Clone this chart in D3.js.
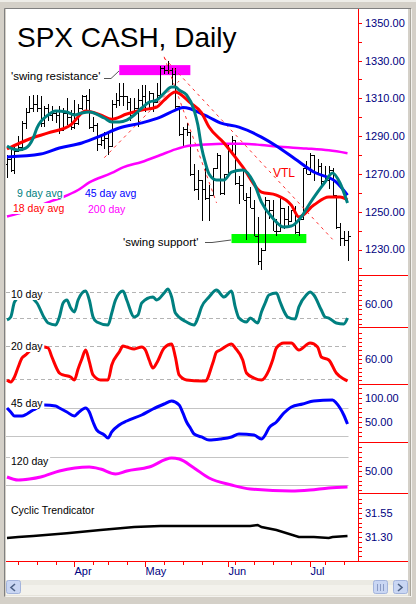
<!DOCTYPE html>
<html><head><meta charset="utf-8">
<script src="https://cdn.jsdelivr.net/npm/d3@7"></script>
<style>body{margin:0;background:#d4d0c8;}svg{display:block;}text{font-family:"Liberation Sans",Arial,sans-serif;}</style>
</head><body><svg id="c" width="416" height="604"></svg>
<script>
// ---- data (SPX cash, daily, 2006) ----
const dates = ["3/8","3/9","3/10","3/13","3/14","3/15","3/16","3/17","3/20","3/21","3/22","3/23","3/24","3/27","3/28","3/29","3/30","3/31",
"4/3","4/4","4/5","4/6","4/7","4/10","4/11","4/12","4/13","4/17","4/18","4/19","4/20","4/21","4/24","4/25","4/26","4/27","4/28",
"5/1","5/2","5/3","5/4","5/5","5/8","5/9","5/10","5/11","5/12","5/15","5/16","5/17","5/18","5/19","5/22","5/23","5/24","5/25","5/26","5/30","5/31",
"6/1","6/2","6/5","6/6","6/7","6/8","6/9","6/12","6/13","6/14","6/15","6/16","6/19","6/20","6/21","6/22","6/23","6/26","6/27","6/28","6/29","6/30",
"7/3","7/5","7/6","7/7","7/10","7/11","7/12","7/13","7/14","7/17","7/18"];
const opens = [1275,1278,1272,1282,1284,1297,1303,1305,1307,1305,1297,1305,1301,1302,1301,1293,1302,1300,
1302,1297,1305,1311,1309,1295,1296,1286,1288,1289,1285,1307,1309,1311,1311,1308,1301,1305,1309,
1311,1305,1313,1308,1312,1326,1325,1325,1323,1306,1291,1294,1292,1270,1262,1267,1262,1257,1259,1273,1280,1260,
1270,1286,1288,1265,1264,1256,1258,1252,1237,1224,1230,1256,1251,1240,1240,1252,1246,1245,1251,1239,1246,1273,
1270,1280,1271,1274,1266,1267,1272,1259,1242,1236,1235];
const highs = [1280,1283,1285,1290,1298,1305,1311,1312,1312,1311,1306,1307,1306,1304,1306,1305,1310,1304,
1309,1307,1312,1312,1315,1300,1297,1290,1292,1292,1309,1313,1318,1318,1311,1310,1310,1315,1317,
1317,1314,1313,1318,1327,1327,1330,1326,1326,1306,1295,1297,1292,1275,1272,1267,1273,1264,1273,1281,1280,1270,
1286,1290,1288,1269,1272,1260,1263,1256,1247,1231,1258,1256,1256,1246,1257,1252,1253,1251,1253,1247,1273,1277,
1281,1280,1278,1276,1274,1274,1273,1259,1244,1240,1240];
const lows = [1268,1271,1270,1282,1282,1294,1302,1303,1303,1295,1295,1298,1298,1297,1291,1293,1296,1293,
1294,1296,1304,1302,1294,1292,1282,1285,1283,1280,1285,1305,1306,1306,1304,1298,1301,1295,1305,
1303,1305,1303,1308,1312,1323,1323,1317,1304,1290,1285,1290,1269,1261,1256,1245,1256,1245,1259,1273,1259,1259,
1270,1280,1264,1254,1256,1235,1252,1237,1222,1219,1230,1246,1240,1237,1240,1241,1242,1245,1238,1237,1246,1270,
1270,1266,1271,1263,1265,1262,1258,1241,1232,1232,1224];
const closes = [1278,1272,1282,1284,1297,1303,1305,1307,1305,1297,1305,1301,1302,1301,1293,1302,1300,1295,
1297,1305,1311,1309,1295,1296,1286,1288,1289,1285,1307,1309,1311,1311,1308,1301,1305,1309,1311,
1305,1313,1308,1312,1326,1325,1325,1323,1306,1291,1294,1292,1270,1262,1267,1262,1257,1259,1273,1280,1260,1270,
1286,1288,1265,1264,1256,1258,1252,1237,1224,1230,1256,1251,1240,1240,1252,1246,1245,1251,1239,1246,1273,1270,
1280,1271,1274,1266,1267,1272,1259,1242,1236,1235,1237];

const ma9 = [["3/8",1284.8],["3/9",1283.7],["3/13",1282.7],["3/15",1283.7],["3/17",1289],["3/20",1294.3],["3/23",1301.2],["3/27",1303.3],["3/30",1302.8],["4/3",1301.2],["4/5",1302.3],["4/7",1302.8],["4/13",1299.6],["4/18",1297.5],["4/20",1297.5],["4/24",1298.5],["4/26",1301.2],["4/28",1304.9],["5/2",1308],["5/4",1309.1],["5/8",1312.8],["5/10",1316],["5/11",1316],["5/12",1314.4],["5/16",1311.8],["5/18",1303.8],["5/19",1296],["5/22",1284],["5/23",1276],["5/24",1270],["5/26",1266.8],["5/31",1266.8],["6/2",1271],["6/7",1272.1],["6/12",1265.2],["6/14",1255.1],["6/19",1246.7],["6/22",1241.9],["6/26",1242.4],["6/29",1248.2],["7/3",1254.6],["7/6",1260.4],["7/10",1265.7],["7/12",1270.5],["7/14",1265.2],["7/18",1254.6]];
const ma18 = [["3/8",1283.2],["3/16",1288.5],["3/23",1291.7],["3/31",1295.9],["4/6",1303.3],["4/12",1301.2],["4/18",1299],["4/24",1301.7],["4/28",1303.8],["5/4",1305.4],["5/8",1309.1],["5/11",1313.4],["5/17",1307.6],["5/22",1302.3],["5/24",1294.8],["5/31",1286.4],["6/7",1273.7],["6/14",1260.4],["6/20",1258.8],["6/26",1253.5],["6/28",1247.2],["7/5",1253.5],["7/11",1257.8],["7/14",1257.8],["7/18",1256.2]];
const ma45 = [["3/8",1279],["3/21",1280.5],["3/28",1283.7],["4/5",1286.4],["4/12",1290.1],["4/20",1294.3],["4/28",1297],["5/5",1300.1],["5/11",1303.8],["5/15",1305.2],["5/17",1304.5],["5/22",1301.8],["5/24",1300],["5/30",1297],["6/6",1294.8],["6/14",1289.5],["6/20",1284.8],["6/27",1277.9],["7/5",1271],["7/13",1265.7],["7/18",1258.8]];
const ma200 = [["3/8",1247.5],["3/13",1249],["3/24",1255.7],["3/29",1257.8],["4/4",1261.5],["4/7",1265.5],["4/18",1270.5],["4/21",1273.5],["4/28",1276.3],["5/5",1280],["5/11",1283],["5/17",1285],["5/23",1285.6],["5/31",1286],["6/7",1286],["6/14",1285.3],["6/20",1284.5],["6/30",1283.5],["7/11",1282.5],["7/18",1281]];

const resistanceZone = ["4/20","5/17",1322.3,1327.6];
const supportZone = ["6/2","6/30",1233.4,1238.2];
const vtlLine = [["5/8",1331.4],["7/12",1235.4]];
const steepLine = [["5/8",1332],["5/26",1254.7]];
const risingLine = [["4/13",1278.6],["5/12",1319.2]];

const osc10 = [["3/8",36.2],["3/9",40.8],["3/10",63.8],["3/14",74],["3/16",72],["3/20",62.3],["3/22",39.2],["3/23",31.5],["3/27",28.5],["3/28",40.8],["3/29",62.3],["3/30",66.9],["3/31",55],["4/3",48.5],["4/4",66.9],["4/6",80.8],["4/7",66.9],["4/10",40.8],["4/11",33.1],["4/17",28.5],["4/18",46.9],["4/19",66.9],["4/21",80.8],["4/24",66.9],["4/26",40.8],["4/27",43.8],["4/28",62.3],["5/3",71.5],["5/4",66.9],["5/8",77.7],["5/9",83.8],["5/10",71.5],["5/11",46.9],["5/16",33.1],["5/18",28.5],["5/19",39.2],["5/22",56.2],["5/24",71.5],["5/26",82.3],["5/31",71.5],["6/2",80.8],["6/5",56.2],["6/6",39.2],["6/8",33.1],["6/9",39.2],["6/13",31.5],["6/14",48.5],["6/15",62.3],["6/16",74.6],["6/20",77.7],["6/21",63.8],["6/22",50],["6/23",40.8],["6/27",37.7],["6/28",56.2],["6/30",74.6],["7/3",79.2],["7/5",74.6],["7/7",51.5],["7/10",40.8],["7/11",39.2],["7/13",31.5],["7/17",30],["7/18",39.2]];
const osc20 = [["3/8",28.2],["3/9",25.2],["3/10",32.7],["3/13",47.9],["3/14",61.5],["3/15",66.1],["3/17",76.7],["3/21",79.7],["3/22",78.2],["3/23",76.7],["3/24",63],["3/28",38.8],["3/29",35.8],["3/31",32.7],["4/3",28.2],["4/4",45],["4/5",60],["4/6",73.6],["4/7",56],["4/10",35.8],["4/12",28.2],["4/17",28.2],["4/18",50.9],["4/20",70.6],["4/21",79.7],["4/24",78.2],["4/26",75.2],["4/28",78.2],["5/1",73.6],["5/2",58.5],["5/3",46.4],["5/4",53.9],["5/8",76.7],["5/10",82.7],["5/11",63],["5/12",35.8],["5/16",28.2],["5/22",26.7],["5/23",26.7],["5/25",53.9],["5/26",70.6],["5/30",73.6],["6/2",82.7],["6/5",76.7],["6/7",58.5],["6/8",38.8],["6/12",31.2],["6/14",28.2],["6/16",43.3],["6/19",58.5],["6/20",76.7],["6/22",84.2],["6/26",84.2],["6/28",73.6],["7/3",84.2],["7/6",78.2],["7/7",63],["7/11",58.5],["7/13",38.8],["7/17",29.7],["7/18",26.7]];
const osc45 = [["3/8",79.2],["3/9",70.8],["3/10",62.5],["3/14",62.5],["3/17",75],["3/22",85.4],["3/27",83.3],["3/28",79.2],["3/30",70.8],["4/3",62.5],["4/4",68.8],["4/6",79.2],["4/7",70.8],["4/10",50],["4/11",33.3],["4/13",22.9],["4/17",16.7],["4/18",29.2],["4/20",43.8],["4/24",52.1],["4/28",64.6],["5/3",77.1],["5/8",87.5],["5/10",93.8],["5/12",85.4],["5/15",68.8],["5/16",50],["5/17",37.5],["5/18",25],["5/22",18.8],["5/24",12.5],["5/30",14.6],["6/2",18.8],["6/6",25],["6/12",22.9],["6/14",14.6],["6/15",22.9],["6/16",37.5],["6/20",50],["6/22",68.8],["6/26",81.3],["6/29",87.5],["7/5",93.8],["7/12",95.8],["7/13",89.6],["7/17",64.6],["7/18",45.8]];
const osc120 = [["3/8",37.5],["3/13",31.3],["3/16",33.3],["3/21",37.5],["3/28",50],["4/7",58.3],["4/12",54],["4/19",43.8],["4/24",50],["5/2",58.3],["5/10",77.1],["5/12",75],["5/18",56.3],["5/24",35.4],["6/2",20.8],["6/9",12.5],["6/26",8.3],["7/3",10.4],["7/11",14.6],["7/18",16.7]];
const cyclic = [["3/8",31.29],["3/13",31.30],["3/17",31.31],["3/30",31.34],["4/12",31.373],["4/26",31.404],["5/5",31.415],["5/22",31.415],["6/9",31.415],["6/13",31.425],["6/14",31.404],["6/20",31.373],["6/28",31.30],["7/5",31.30],["7/11",31.29],["7/12",31.30],["7/18",31.31]];

const priceTicks = [1230,1250,1270,1290,1310,1330,1350];

// ---- setup ----
const svg = d3.select("#c");
const idx = new Map(dates.map((d,i)=>[d,i]));
const parse = d3.timeParse("%Y/%m/%d");
const days = dates.map(s=>parse("2006/"+s));
const x = d3.scaleLinear().domain([0, dates.length-1]).range([7, 347.5]);
const xd = d => x(idx.get(d));
const yP = d3.scaleLinear().domain([1230,1350]).range([249.5,22.8]);

const TEAL="#008080", RED="#ff0000", BLUE="#0000ff", MAG="#ff00ff", NAVY="#000080";

// frame
svg.append("rect").attr("width",416).attr("height",604).attr("fill","#d4d0c8");
svg.append("rect").attr("width",416).attr("height",2).attr("fill","#eeede8");
svg.append("rect").attr("x",6).attr("y",9).attr("width",402).attr("height",571).attr("fill","#fff");
svg.append("path").attr("d","M4.5,596.5V8.5H411.5").attr("fill","none").attr("stroke","#808080");
svg.append("path").attr("d","M5.5,596.5H411.5V8.5").attr("fill","none").attr("stroke","#f4f3ef");
svg.append("line").attr("x1",410.5).attr("x2",410.5).attr("y1",9).attr("y2",596).attr("stroke","#a9a69c");

const defs = svg.append("defs");
function clip(id,x0,y0,w,h){defs.append("clipPath").attr("id",id).append("rect").attr("x",x0).attr("y",y0).attr("width",w).attr("height",h);}
clip("cp",6,9,352,266);

// zones
const gP = svg.append("g").attr("clip-path","url(#cp)");
[[resistanceZone,MAG],[supportZone,"#00ff00"]].forEach(([z,c])=>{
  gP.append("rect").attr("x",xd(z[0])).attr("width",xd(z[1])-xd(z[0]))
    .attr("y",yP(z[3])).attr("height",yP(z[2])-yP(z[3])).attr("fill",c);
});

// OHLC bars
const bars = gP.append("g").attr("stroke","#000").attr("stroke-width",1).attr("shape-rendering","crispEdges");
const bi = d3.range(dates.length);
bars.selectAll(".hl").data(bi).join("line").attr("x1",i=>Math.round(x(i))+0.5).attr("x2",i=>Math.round(x(i))+0.5)
  .attr("y1",i=>yP(highs[i])).attr("y2",i=>yP(lows[i]));
bars.selectAll(".op").data(bi).join("line").attr("x1",i=>Math.round(x(i))-2).attr("x2",i=>Math.round(x(i))+0.5)
  .attr("y1",i=>Math.round(yP(opens[i]))+0.5).attr("y2",i=>Math.round(yP(opens[i]))+0.5);
bars.selectAll(".cl").data(bi).join("line").attr("x1",i=>Math.round(x(i))+0.5).attr("x2",i=>Math.round(x(i))+3)
  .attr("y1",i=>Math.round(yP(closes[i]))+0.5).attr("y2",i=>Math.round(yP(closes[i]))+0.5);

// trend lines
[vtlLine,steepLine,risingLine].forEach(l=>{
  gP.append("line").attr("x1",xd(l[0][0])).attr("y1",yP(l[0][1])).attr("x2",xd(l[1][0])).attr("y2",yP(l[1][1]))
    .attr("stroke","#ff3030").attr("stroke-width",1).attr("stroke-dasharray","3,4");
});

// moving averages
const lineP = d3.line().x(d=>xd(d[0])).y(d=>yP(d[1])).curve(d3.curveMonotoneX);
[[ma200,MAG,2.5],[ma45,BLUE,3],[ma18,RED,3],[ma9,TEAL,3]].forEach(([s,c,w])=>{
  gP.append("path").attr("d",lineP(s)).attr("fill","none").attr("stroke",c).attr("stroke-width",w);
});

function label(g,txt,x0,y0,color,size,bg){
  const t = g.append("text").attr("x",x0).attr("y",y0).attr("fill",color).style("font-size",size+"px").text(txt);
  if(bg){const b=t.node().getBBox();g.insert("rect",()=>t.node()).attr("x",b.x-1).attr("y",b.y+1).attr("width",b.width+2).attr("height",b.height-1).attr("fill","#fff");}
  return t;
}
const gL = svg.append("g");
label(gL,"SPX CASH, Daily",17,47,"#000",28,false);
label(gL,"'swing resistance'",11,80,"#000",11.5,false);
gL.append("path").attr("d","M104,78.5H111L119,71").attr("fill","none").attr("stroke","#555");
label(gL,"'swing support'",123,246,"#000",11.5,false);
gL.append("path").attr("d","M205,242.5H212L231,240").attr("fill","none").attr("stroke","#555");
label(gL,"VTL",273,177,RED,12,false);
label(gL,"9 day avg",17,197,TEAL,10.5,true);
label(gL,"45 day avg",85,197,BLUE,10.5,true);
label(gL,"18 day avg",13,212,RED,10.5,true);
label(gL,"200 day",88,213,MAG,10.5,true);

// ---- oscillator panels ----
const panels = [
 {name:"10 day",data:osc10,color:TEAL,top:275,bot:327,y:d3.scaleLinear().domain([40,80]).range([317.5,291.5]),refs:[80,40],dash:true,step:7.5,base:60,labels:[60],fmt:d3.format(".2f")},
 {name:"20 day",data:osc20,color:RED,top:327,bot:384,y:d3.scaleLinear().domain([30,80]).range([378.8,345.8]),refs:[80,30],dash:true,step:6.5,base:60,labels:[60],fmt:d3.format(".2f")},
 {name:"45 day",data:osc45,color:BLUE,top:384,bot:442,y:d3.scaleLinear().domain([20,80]).range([436.4,407.6]),refs:[80,20],dash:false,step:10,base:50,labels:[100,50],fmt:d3.format(".2f")},
 {name:"120 day",data:osc120,color:MAG,top:442,bot:493,y:d3.scaleLinear().domain([20,80]).range([485.4,456.6]),refs:[80,20],dash:false,step:10,base:50,labels:[50],fmt:d3.format(".2f")},
 {name:"Cyclic Trendicator",data:cyclic,color:"#000",top:493,bot:561,y:d3.scaleLinear().domain([31.30,31.55]).range([537,513]),refs:[],dash:false,step:0.05,base:31.30,labels:[31.30,31.55],fmt:d3.format(".2f"),linear:true,w:2.5}
];
panels.forEach((p,k)=>{
  clip("c"+k,6,p.top,352,p.bot-p.top);
  const g = svg.append("g").attr("clip-path",`url(#c${k})`);
  p.refs.forEach(r=>{
    g.append("line").attr("x1",6).attr("x2",x(dates.length-1)+1).attr("y1",Math.round(p.y(r))+0.5).attr("y2",Math.round(p.y(r))+0.5)
     .attr("stroke",p.dash?"#b4b4b4":"#c4c4c4").attr("stroke-width",1).attr("stroke-dasharray",p.dash?"4,3":null);
  });
  const ln = d3.line().x(d=>xd(d[0])).y(d=>p.y(d[1])).curve(p.linear?d3.curveLinear:d3.curveMonotoneX);
  g.append("path").attr("d",ln(p.data)).attr("fill","none").attr("stroke",p.color).attr("stroke-width",p.w||3);
  label(svg,p.name,11,p.top+ (k==4?21:23),"#000",10.5,k<4);
  // right axis ticks
  const ax = svg.append("g").attr("stroke",RED).attr("shape-rendering","crispEdges");
  const lo = p.y.invert(p.bot-2), hi = p.y.invert(p.top+2);
  for(let v=p.base; v<=hi+1e-9; v+=p.step) ax.append("line").attr("x1",358).attr("x2",362).attr("y1",Math.round(p.y(v))+0.5).attr("y2",Math.round(p.y(v))+0.5);
  for(let v=p.base-p.step; v>=lo-1e-9; v-=p.step) ax.append("line").attr("x1",358).attr("x2",362).attr("y1",Math.round(p.y(v))+0.5).attr("y2",Math.round(p.y(v))+0.5);
  p.labels.forEach(v=>{
    svg.append("text").attr("x",365).attr("y",p.y(v)).attr("dy","0.36em").attr("fill",NAVY).style("font-size","11px").text(p.fmt(v));
  });
  svg.append("line").attr("x1",358).attr("x2",408).attr("y1",p.top+0.5).attr("y2",p.top+0.5).attr("stroke",RED);
});

// price axis
const pax = svg.append("g").attr("stroke",RED).attr("shape-rendering","crispEdges");
for(let v=1220; v<=1350; v+=10){ if(yP(v)<273 && yP(v)>12) pax.append("line").attr("x1",358).attr("x2",362).attr("y1",Math.round(yP(v))+0.5).attr("y2",Math.round(yP(v))+0.5); }
priceTicks.forEach(v=>svg.append("text").attr("x",365).attr("y",yP(v)).attr("dy","0.36em").attr("fill",NAVY).style("font-size","11px").text(d3.format(".2f")(v)));
svg.append("line").attr("x1",358.5).attr("x2",358.5).attr("y1",9).attr("y2",561).attr("stroke",RED);

// x axis
svg.append("line").attr("x1",6).attr("x2",408).attr("y1",561.5).attr("y2",561.5).attr("stroke",RED);
const xg = svg.append("g").attr("stroke",RED).attr("shape-rendering","crispEdges");
days.forEach((d,i)=>{
  const major = i>0 && d.getMonth()!==days[i-1].getMonth();
  const minor = d.getDay()===1;
  if(!major && !minor) return;
  const xx = Math.round(x(i))+0.5;
  xg.append("line").attr("x1",xx).attr("x2",xx).attr("y1",562).attr("y2",major?567:565);
  if(major) svg.append("text").attr("x",xx).attr("y",575).attr("fill",NAVY).style("font-size","11px").text(d3.timeFormat("%b")(d));
});

// scrollbar
const sb = svg.append("g");
sb.append("rect").attr("x",6).attr("y",580).attr("width",402).attr("height",15).attr("fill","#f3f2ec");
sb.append("rect").attr("x",6).attr("y",580).attr("width",402).attr("height",5).attr("fill","#ebeae3");
sb.append("line").attr("x1",6).attr("x2",408).attr("y1",595.5).attr("y2",595.5).attr("stroke","#e6e4dc");
function btn(x0,w){sb.append("rect").attr("x",x0+0.5).attr("y",580.5).attr("width",w).attr("height",13).attr("rx",2).attr("fill","#c9d6f3").attr("stroke","#a3b4dc");}
btn(6,14); btn(373,14); btn(393,14);
sb.append("path").attr("d","M15,584L11,587.5L15,591").attr("fill","none").attr("stroke","#4d6185").attr("stroke-width",1.6);
sb.append("path").attr("d","M398,584L402,587.5L398,591").attr("fill","none").attr("stroke","#4d6185").attr("stroke-width",1.6);
[377.5,380.5,383.5].forEach(xx=>sb.append("line").attr("x1",xx).attr("x2",xx).attr("y1",584).attr("y2",591).attr("stroke","#8a9bc4"));
</script></body></html>
